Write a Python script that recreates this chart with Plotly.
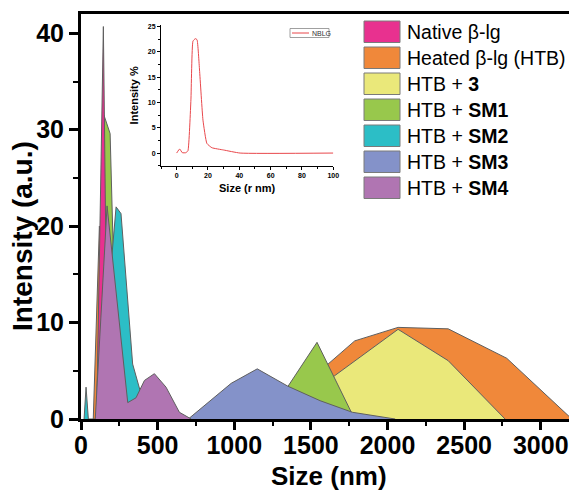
import plotly.graph_objects as go

# ---------------- data (Size in nm, Intensity in a.u.) ----------------
native_x = [102, 146, 175]
native_y = [0, 40.7, 0]

heated_x = [80, 120, 160, 220, 1200, 1786, 2069, 2396, 2778, 3203]
heated_y = [0, 20, 12, 0, 0, 8.1, 9.5, 9.35, 6.3, 0]

htb3_x = [1300, 1656, 2069, 2396, 2767]
htb3_y = [0, 4.5, 9.3, 6.05, 0]

sm1_x = [100, 150, 190, 207, 240, 280, 1210, 1540, 1770, 1800]
sm1_y = [0, 31.5, 29.6, 19.5, 6, 0, 0, 7.95, 0.5, 0]

sm2_x = [20, 33, 48, 110, 229, 261, 337, 377, 420, 470]
sm2_y = [0, 3.3, 0, 0, 22.0, 21.3, 5.7, 3.3, 1.0, 0]

sm3_x = [700, 980, 1150, 1350, 1560, 1770, 2050]
sm3_y = [0, 3.7, 5.2, 3.4, 1.9, 0.7, 0]

sm4_x = [93, 170, 305, 359, 414, 479, 555, 642, 719]
sm4_y = [0, 22.1, 1.7, 2.2, 4.0, 4.7, 3.3, 0.7, 0]

# inset: native beta-lg (NBLG), size (r nm) vs intensity %
nblg_x = [0, 1.9, 3.6, 5.9, 7.2, 9.1, 10.4, 11.9, 13, 14.6, 16.8, 19.3, 22.5, 30, 40.5, 100]
nblg_y = [0, 0.8, 0.07, 0.07, 0.45, 10.5, 22.1, 22.6, 22.4, 16.4, 6.5, 1.9, 1.05, 0.6, 0, 0]

legend_labels = ["Native β-lg", "Heated β-lg (HTB)", "HTB + <b>3</b>", "HTB + <b>SM1</b>",
                 "HTB + <b>SM2</b>", "HTB + <b>SM3</b>", "HTB + <b>SM4</b>"]
colors = {"native": "#E8318F", "heated": "#F0883A", "htb3": "#EAE87A", "sm1": "#98C84C",
          "sm2": "#2CBEC6", "sm3": "#8492C9", "sm4": "#B075B2"}
legend_keys = ["native", "heated", "htb3", "sm1", "sm2", "sm3", "sm4"]

FONT = "Liberation Sans, Arial, Helvetica, sans-serif"
# the page body has an 8px default margin: size the figure so that the
# visible window (577x490) is filled
OFF = 8
W, H = 577 - OFF, 490 - OFF
PL, PR, PT, PB = 81, 576, 14, 419          # plot area in window pixels
L, T = PL - OFF, PT - OFF
R, B = W - (PR - OFF), H - (PB - OFF)
PW, PH = PR - PL, PB - PT


def px2x(px):
    return (px - PL) / PW


def py2y(py):
    return (PB - py) / PH


fig = go.Figure()

series = {
    "heated": (heated_x, heated_y),
    "htb3": (htb3_x, htb3_y),
    "sm1": (sm1_x, sm1_y),
    "native": (native_x, native_y),
    "sm2": (sm2_x, sm2_y),
    "sm3": (sm3_x, sm3_y),
    "sm4": (sm4_x, sm4_y),
}
for key, (xs, ys) in series.items():
    fig.add_trace(go.Scatter(x=xs, y=ys, mode="lines", fill="tozeroy",
                             fillcolor=colors[key], line=dict(color="#5f5f5f", width=1),
                             showlegend=False, hoverinfo="skip"))

# inset trace
fig.add_trace(go.Scatter(x=nblg_x, y=nblg_y, mode="lines", xaxis="x2", yaxis="y2",
                         line=dict(color="#E8474B", width=1, shape="spline", smoothing=0.4),
                         showlegend=False, hoverinfo="skip"))

tickfont = dict(family=FONT, size=25, color="black", weight="bold")
fig.update_layout(
    width=W, height=H, margin=dict(l=L, r=R, t=T, b=B, autoexpand=False),
    paper_bgcolor="white", plot_bgcolor="white",
    xaxis=dict(range=[0, 3230], showline=True, linewidth=3, linecolor="black", mirror=True,
               automargin=False, ticklabelstandoff=-6,
               ticks="outside", ticklen=8, tickwidth=2.5, tickcolor="black", dtick=500, tick0=0,
               minor=dict(ticks="outside", ticklen=4, tickwidth=2, tickcolor="black", dtick=250),
               showgrid=False, zeroline=False, tickfont=tickfont),
    yaxis=dict(range=[0, 42], showline=True, linewidth=3, linecolor="black",
               automargin=False,
               ticks="outside", ticklen=9, tickwidth=2.5, tickcolor="black", dtick=10, tick0=0,
               minor=dict(ticks="outside", ticklen=5, tickwidth=2, tickcolor="black", dtick=5),
               showgrid=False, zeroline=False, tickfont=tickfont),
    xaxis2=dict(domain=[px2x(161), px2x(333.3)], anchor="y2", range=[-10, 100], automargin=False,
                showline=True, linewidth=1, linecolor="black", ticks="outside", ticklen=3,
                tickwidth=1, tickcolor="black", dtick=20, tick0=0,
                minor=dict(ticks="outside", ticklen=2, tickwidth=1, tickcolor="black", dtick=10),
                showgrid=False, zeroline=False,
                tickfont=dict(family=FONT, size=7, color="black", weight="bold"),
                title=dict(text="Size (r nm)", font=dict(family=FONT, size=11, color="black", weight="bold"),
                           standoff=6)),
    yaxis2=dict(domain=[py2y(165.7), py2y(25)], anchor="x2", range=[-2.5, 25.3], automargin=False,
                showline=True, linewidth=1, linecolor="black", ticks="outside", ticklen=3,
                tickwidth=1, tickcolor="black", dtick=5, tick0=0,
                minor=dict(ticks="outside", ticklen=2, tickwidth=1, tickcolor="black", dtick=2.5),
                showgrid=False, zeroline=False,
                tickfont=dict(family=FONT, size=7, color="black", weight="bold"),
                title=dict(text="Intensity %", font=dict(family=FONT, size=11, color="black", weight="bold"),
                           standoff=6)),
)

shapes = []
annotations = []
# axis titles
annotations.append(dict(xref="paper", yref="paper", x=px2x(328.5), y=py2y(476),
                        xanchor="center", yanchor="middle", showarrow=False, text="Size (nm)",
                        font=dict(family=FONT, size=26, color="black", weight="bold")))
annotations.append(dict(xref="paper", yref="paper", x=px2x(22), y=py2y(236),
                        xanchor="center", yanchor="middle", showarrow=False, textangle=-90,
                        text="Intensity (a.u.)",
                        font=dict(family=FONT, size=28, color="black", weight="bold")))

# main legend (manual swatches)
for i, (key, lab) in enumerate(zip(legend_keys, legend_labels)):
    top = 21 + 26 * i
    shapes.append(dict(type="rect", xref="paper", yref="paper",
                       x0=px2x(364), x1=px2x(400), y0=py2y(top + 21.5), y1=py2y(top),
                       fillcolor=colors[key], line=dict(color="#7a7a7a", width=1)))
    annotations.append(dict(xref="paper", yref="paper", x=px2x(405), y=py2y(top + 11),
                            xanchor="left", yanchor="middle", showarrow=False, text=lab,
                            font=dict(family=FONT, size=19.5, color="black")))

# inset legend
shapes.append(dict(type="rect", xref="paper", yref="paper",
                   x0=px2x(290), x1=px2x(329), y0=py2y(37.5), y1=py2y(28.5),
                   line=dict(color="#888888", width=0.8), fillcolor="white"))
shapes.append(dict(type="line", xref="paper", yref="paper",
                   x0=px2x(292), x1=px2x(309), y0=py2y(33), y1=py2y(33),
                   line=dict(color="#E8474B", width=1)))
annotations.append(dict(xref="paper", yref="paper", x=px2x(310), y=py2y(33),
                        xanchor="left", yanchor="middle", showarrow=False, text="NBLG",
                        font=dict(family=FONT, size=7, color="#333333")))

fig.update_layout(shapes=shapes, annotations=annotations)
fig.write_html("out.html")
